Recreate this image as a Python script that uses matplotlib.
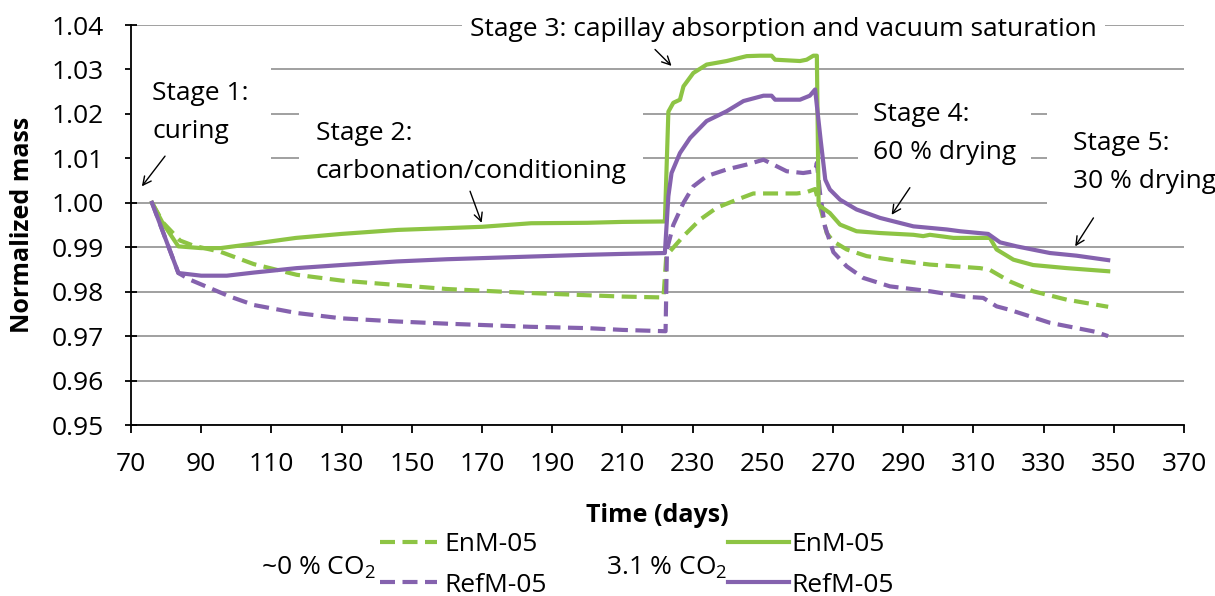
import matplotlib

matplotlib.use("Agg")
import matplotlib.pyplot as plt
from matplotlib.ticker import FormatStrFormatter

plt.rcParams["font.family"] = ["Open Sans", "DejaVu Sans"]
plt.rcParams["mathtext.fontset"] = "custom"
plt.rcParams["mathtext.rm"] = "Open Sans"
plt.rcParams["mathtext.it"] = "Open Sans:italic"

GREEN = "#8dc444"
PURPLE = "#8562ae"
FS = 19

# ~0 % CO2, EnM-05 (dashed green)
enm_low_days = [76, 79.2, 84, 88, 95.4, 105, 117.2, 130, 145.7, 160, 183.7, 200, 210, 221.7,
                222.5, 223.6, 227.4, 232.1, 236.9, 242.6, 247.3, 253, 259.7, 262.5, 264.9,
                266.8, 268.2, 270.1, 273.9, 279.6, 286.2, 297.6, 311.9, 314.7, 320.4, 327,
                336.6, 348.4]
enm_low_mass = [1.000, 0.9955, 0.9915, 0.9903, 0.9890, 0.9862, 0.9838, 0.9825, 0.9815, 0.9806,
                0.9797, 0.9792, 0.9789, 0.9787, 0.9880, 0.9891, 0.9925, 0.9962, 0.9989, 1.0007,
                1.0021, 1.0021, 1.0021, 1.0024, 1.0031, 0.9977, 0.9932, 0.9913, 0.9895, 0.9880,
                0.9872, 0.9861, 0.9853, 0.9849, 0.9823, 0.9801, 0.9782, 0.9766]

# ~0 % CO2, RefM-05 (dashed purple)
ref_low_days = [76, 83.5, 86.8, 98.2, 105, 117.2, 130, 145.7, 160, 183.7, 200, 210, 222.3,
                222.7, 224.5, 227.4, 230.2, 234, 239.7, 245.4, 250.2, 253, 256.8, 261.5, 264.9,
                265.4, 266.3, 267.7, 270.1, 273.9, 278.6, 286.2, 297.6, 307.1, 312.8, 316.6,
                320.4, 331.8, 344.6, 348.4]
ref_low_mass = [1.000, 0.9842, 0.9827, 0.9789, 0.9770, 0.9752, 0.9740, 0.9733, 0.9728, 0.9721,
                0.9718, 0.9714, 0.9711, 0.9895, 0.9950, 1.0000, 1.0037, 1.0060, 1.0075, 1.0086,
                1.0097, 1.0086, 1.0071, 1.0067, 1.0071, 1.0090, 1.0022, 0.9947, 0.9889, 0.9857,
                0.9831, 0.9812, 0.9801, 0.9789, 0.9786, 0.9767, 0.9759, 0.9730, 0.9710, 0.9700]

# 3.1 % CO2, EnM-05 (solid green)
enm_high_days = [76, 79, 83.5, 90, 95.5, 105, 117, 130, 146, 160, 170, 184, 200, 210, 222.1,
                 223.1, 224.5, 226.4, 227.4, 230.2, 234, 239.7, 245.4, 249.2, 252.5, 253.5,
                 260.6, 262.5, 264.4, 265.4, 265.9, 269.1, 272, 276.7, 283.4, 292.9, 295.7,
                 297.6, 304.3, 314.7, 316.6, 321.4, 327, 336.6, 348.4]
enm_high_mass = [1.000, 0.9955, 0.9902, 0.9898, 0.9898, 0.9908, 0.9921, 0.9930, 0.9939, 0.9943,
                 0.9946, 0.9954, 0.9955, 0.9957, 0.9958, 1.0205, 1.0225, 1.0232, 1.0262, 1.0292,
                 1.0311, 1.0319, 1.0330, 1.0331, 1.0331, 1.0322, 1.0319, 1.0322, 1.0331, 1.0331,
                 0.9995, 0.9977, 0.9951, 0.9936, 0.9932, 0.9928, 0.9925, 0.9928, 0.9921, 0.9921,
                 0.9895, 0.9872, 0.9860, 0.9853, 0.9846]

# 3.1 % CO2, RefM-05 (solid purple)
ref_high_days = [76, 83.5, 90, 97.3, 105, 117.2, 130, 145.7, 160, 183.7, 200, 210, 222.1, 223.1,
                 224, 226.4, 229.3, 234, 239.7, 244.5, 250.2, 252.5, 253.5, 260.6, 263.4, 264.9,
                 266.5, 267.8, 269.1, 272, 276.7, 283.4, 292.9, 302.4, 306.2, 314.2, 317.6,
                 322.3, 331.8, 339.4, 348.4]
ref_high_mass = [1.000, 0.9842, 0.9836, 0.9836, 0.9843, 0.9853, 0.9860, 0.9868, 0.9873, 0.9879,
                 0.9883, 0.9885, 0.9887, 1.0015, 1.0067, 1.0112, 1.0146, 1.0184, 1.0206, 1.0229,
                 1.0241, 1.0241, 1.0232, 1.0232, 1.0241, 1.0255, 1.0140, 1.0052, 1.0030, 1.0007,
                 0.9985, 0.9966, 0.9947, 0.9940, 0.9936, 0.9930, 0.9911, 0.9902, 0.9887, 0.9881,
                 0.9871]

x_ticks = list(range(70, 371, 20))
y_ticks = [0.95, 0.96, 0.97, 0.98, 0.99, 1.00, 1.01, 1.02, 1.03, 1.04]

fig = plt.figure(figsize=(12.15, 5.96), dpi=100)
ax = fig.add_axes([0.1078, 0.2869, 0.8667, 0.6711])

lw = 3.0
dash = (3.6, 1.8)
l_enm_low, = ax.plot(enm_low_days, enm_low_mass, color=GREEN, lw=lw, dashes=dash)
l_ref_low, = ax.plot(ref_low_days, ref_low_mass, color=PURPLE, lw=lw, dashes=dash)
l_enm_high, = ax.plot(enm_high_days, enm_high_mass, color=GREEN, lw=lw)
l_ref_high, = ax.plot(ref_high_days, ref_high_mass, color=PURPLE, lw=lw)

ax.set_xlim(70, 370)
ax.set_ylim(0.95, 1.04)
ax.set_xticks(x_ticks)
ax.set_yticks(y_ticks)
ax.yaxis.set_major_formatter(FormatStrFormatter("%.2f"))
ax.grid(axis="y", color="#999999", lw=1.3)
ax.set_axisbelow(True)
for side in ("top", "right"):
    ax.spines[side].set_visible(False)
for side in ("left", "bottom"):
    ax.spines[side].set_linewidth(1.3)
ax.tick_params(axis="y", direction="inout", length=9, width=1.3, pad=15, labelsize=FS)
ax.tick_params(axis="x", direction="out", length=6, width=1.3, pad=13.5, labelsize=FS)

ax.set_xlabel("Time (days)", fontsize=18, fontweight="bold")
ax.xaxis.set_label_coords(0.5, -0.225)
ax.xaxis.label.set_va("center")
ax.set_ylabel("Normalized mass", fontsize=18, fontweight="bold")
ax.yaxis.set_label_coords(-0.103, 0.5)
ax.yaxis.label.set_va("center")

# stage annotations: text, x, y, box padding (pt)
stages = [
    ("Stage 1:\ncuring", 76.0, 1.0274, 16),
    ("Stage 2:\ncarbonation/conditioning", 122.7, 1.0185, 12),
    ("Stage 3: capillay absorption and vacuum saturation", 166.6, 1.0419, 6),
    ("Stage 4:\n60 % drying", 281.4, 1.0227, 11),
    ("Stage 5:\n30 % drying", 338.4, 1.0162, 19),
]
for label, sx, sy, pad in stages:
    ax.text(sx, sy, label, ha="left", va="top", fontsize=FS, linespacing=1.68,
            bbox=dict(facecolor="white", edgecolor="none", pad=pad),
            zorder=1.5, clip_on=False)

arrows = [
    ((79.7, 1.0105), (73.1, 1.0037)),
    ((166.6, 1.0026), (169.9, 0.9955)),
    ((219.3, 1.0345), (224.0, 1.0308)),
    ((291.9, 1.0034), (286.7, 0.9973)),
    ((344.2, 0.9966), (339.0, 0.9902)),
]
for tail, head in arrows:
    ax.annotate("", xy=head, xytext=tail,
                arrowprops=dict(arrowstyle="->,head_length=0.6,head_width=0.3",
                                color="black", lw=1.0, shrinkA=0, shrinkB=0),
                annotation_clip=False, zorder=3)

# legend: two groups
W, H = 1215, 596
leg_kw = dict(loc="upper left", frameon=False, fontsize=FS, labelspacing=0.59,
              borderpad=0, borderaxespad=0)
fig.legend([l_enm_low, l_ref_low], ["EnM-05", "RefM-05"],
           bbox_to_anchor=(380 / W, 1 - 532 / H), handlelength=2.15, handletextpad=0.3,
           **leg_kw)
fig.legend([l_enm_high, l_ref_high], ["EnM-05", "RefM-05"],
           bbox_to_anchor=(728 / W, 1 - 532 / H), handlelength=2.3, handletextpad=0.12,
           **leg_kw)
fig.text(376 / W, 1 - 568 / H, r"~0 % CO$_2$", ha="right", va="center", fontsize=FS)
fig.text(727 / W, 1 - 568 / H, r"3.1 % CO$_2$", ha="right", va="center", fontsize=FS)

fig.savefig("out.png", dpi=100)
